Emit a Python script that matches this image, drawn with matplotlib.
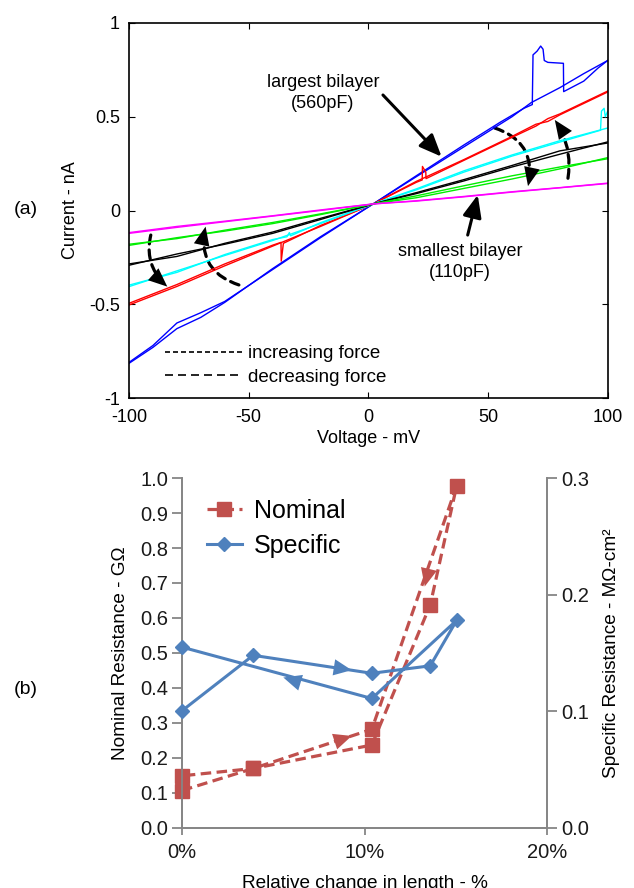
import numpy as np
import matplotlib
matplotlib.use("Agg")
import matplotlib.pyplot as plt
from matplotlib.lines import Line2D
from matplotlib.patches import FancyArrowPatch

plt.rcParams['font.family'] = ['Liberation Sans', 'DejaVu Sans']

# ---- (a) current-voltage traces, two sweeps per bilayer ----
v_grid = [-100, -80, -60, -40, -20, 2, 20, 40, 60, 80, 100]

magenta_a = [-0.122, -0.090, -0.060, -0.030, 0.000, 0.035, 0.052, 0.075, 0.100, 0.122, 0.146]
magenta_b = [-0.118, -0.085, -0.057, -0.028, 0.003, 0.035, 0.050, 0.073, 0.098, 0.121, 0.144]
green_a = [-0.186, -0.145, -0.110, -0.070, -0.022, 0.035, 0.068, 0.118, 0.168, 0.222, 0.282]
green_b = [-0.180, -0.150, -0.105, -0.064, -0.018, 0.035, 0.078, 0.132, 0.185, 0.232, 0.276]
black_a = [-0.292, -0.232, -0.180, -0.122, -0.048, 0.035, 0.090, 0.158, 0.232, 0.300, 0.366]
black_b = [-0.285, -0.245, -0.175, -0.115, -0.042, 0.035, 0.095, 0.165, 0.240, 0.318, 0.360]

cyan_a_v = [-100, -80, -60, -40, -20, 2, 20, 40, 60, 80, 97, 97.4, 98.5, 99, 100]
cyan_a_i = [-0.406, -0.322, -0.240, -0.160, -0.070, 0.035, 0.110, 0.205, 0.290, 0.365,
            0.428, 0.530, 0.545, 0.500, 0.530]
cyan_b_v = [-100, -80, -60, -40, -34, -33, -32.5, -20, 2, 20, 40, 60, 80, 100]
cyan_b_i = [-0.398, -0.330, -0.235, -0.155, -0.140, -0.118, -0.135, -0.065, 0.035, 0.115,
            0.212, 0.296, 0.372, 0.440]

red_a_v = [-100, -80, -60, -40, -20, 2, 20, 22.5, 22.6, 24, 24.1, 40, 60, 70, 75, 80, 100]
red_a_i = [-0.504, -0.405, -0.295, -0.190, -0.085, 0.035, 0.150, 0.163, 0.235, 0.205, 0.170,
           0.268, 0.390, 0.450, 0.490, 0.515, 0.637]
red_b_v = [-100, -80, -60, -40, -36.5, -36.4, -35.5, -20, 2, 20, 40, 60, 70, 75, 80, 100]
red_b_i = [-0.495, -0.395, -0.285, -0.185, -0.170, -0.270, -0.175, -0.080, 0.035, 0.155,
           0.272, 0.395, 0.460, 0.475, 0.510, 0.632]

blue_a_v = [-100, -90, -80, -70, -60, -40, -20, 2, 20, 40, 60, 68, 80, 90, 100]
blue_a_i = [-0.815, -0.730, -0.630, -0.570, -0.490, -0.310, -0.140, 0.035, 0.180, 0.340,
            0.500, 0.575, 0.655, 0.730, 0.800]
blue_b_v = [-100, -90, -80, -70, -60, -40, -20, 2, 20, 40, 55, 65, 68.5, 68.8, 70.5, 72, 73,
            73.5, 75, 81.5, 81.6, 90, 96, 100]
blue_b_i = [-0.810, -0.720, -0.600, -0.545, -0.485, -0.315, -0.145, 0.035, 0.185, 0.350,
            0.470, 0.545, 0.565, 0.830, 0.850, 0.877, 0.860, 0.800, 0.790, 0.785, 0.634,
            0.690, 0.760, 0.800]

# ---- (b) resistance vs. relative length change ----
nominal_x = [0, 3.9, 10.4, 15.05, 13.6, 10.4, 3.9, 0]
nominal_y = [0.107, 0.170, 0.282, 0.978, 0.637, 0.237, 0.170, 0.149]
specific_x = [0, 3.9, 10.4, 13.6, 15.05, 10.4, 0]
specific_y = [0.1005, 0.148, 0.1326, 0.139, 0.178, 0.111, 0.155]

RED = '#c0504d'
BLUE = '#4f81bd'
GREY = '#868686'
FS = 13


def dashed_arc_arrow(ax, start, end, rad):
    # dashed arc (no head) + solid head aligned with the arc tangent at the end
    ax.add_patch(FancyArrowPatch(start, end, connectionstyle=f'arc3,rad={rad}',
                                 arrowstyle='-', lw=2.3, color='k',
                                 linestyle=(0, (2.8, 1.9)), shrinkA=0, shrinkB=9))
    T = ax.transData
    p0, p1 = T.transform(start), T.transform(end)
    d = p1 - p0
    c = (p0 + p1) / 2 + rad * np.array([d[1], -d[0]])
    t = (p1 - c) / np.linalg.norm(p1 - c)
    tail = T.inverted().transform(p1 - 4 * t)
    ax.annotate('', xy=end, xytext=tail,
                arrowprops=dict(arrowstyle='-|>,head_length=0.9,head_width=0.38',
                                mutation_scale=15, color='k', lw=0,
                                shrinkA=0, shrinkB=0))


fig = plt.figure(figsize=(6.34, 8.88), dpi=100)

# ================= (a) =================
ax = fig.add_axes([0.2035, 0.5518, 0.755, 0.4223])
traces = [
    (blue_a_v, blue_a_i, '#0000ff'), (blue_b_v, blue_b_i, '#0000ff'),
    (red_a_v, red_a_i, '#ff0000'), (red_b_v, red_b_i, '#ff0000'),
    (cyan_a_v, cyan_a_i, '#00ffff'), (cyan_b_v, cyan_b_i, '#00ffff'),
    (v_grid, black_a, 'black'), (v_grid, black_b, 'black'),
    (v_grid, green_a, '#00ee00'), (v_grid, green_b, '#00ee00'),
    (v_grid, magenta_a, '#ff00ff'), (v_grid, magenta_b, '#ff00ff'),
]
for vv, ii, c in traces:
    ax.plot(vv, ii, color=c, lw=1.0)

ax.set_xlim(-100, 100)
ax.set_ylim(-1, 1)
ax.set_xticks([-100, -50, 0, 50, 100])
ax.set_yticks([-1, -0.5, 0, 0.5, 1])
ax.set_yticklabels(['-1', '-0.5', '0', '0.5', '1'])
ax.set_xticklabels(['-100', '-50', '0', '50', '100'])
ax.tick_params(direction='in', top=True, right=True, length=4, labelsize=FS)
ax.tick_params(axis='x', pad=8)
ax.tick_params(axis='y', pad=6.5)
for s in ax.spines.values():
    s.set_linewidth(1.2)
ax.set_xlabel('Voltage - mV', fontsize=FS, labelpad=3)
ax.set_ylabel('Current - nA', fontsize=FS, labelpad=7)

# bilayer labels with solid arrows
ax.text(-19, 0.627, 'largest bilayer\n(560pF)', ha='center', va='center',
        fontsize=FS, linespacing=1.25)
ax.annotate('', xy=(30.6, 0.287), xytext=(6.1, 0.616),
            arrowprops=dict(arrowstyle='-|>,head_length=0.9,head_width=0.38',
                            color='k', lw=2.2, mutation_scale=15, shrinkA=0, shrinkB=0))
ax.text(38.2, -0.275, 'smallest bilayer\n(110pF)', ha='center', va='center',
        fontsize=FS, linespacing=1.25)
ax.annotate('', xy=(45.7, 0.083), xytext=(41.5, -0.131),
            arrowprops=dict(arrowstyle='-|>,head_length=0.9,head_width=0.38',
                            color='k', lw=2.2, mutation_scale=15, shrinkA=0, shrinkB=0))

# dashed curved arrows showing force direction
dashed_arc_arrow(ax, (52.8, 0.44), (66.7, 0.13), -0.45)
dashed_arc_arrow(ax, (83.4, 0.172), (77.9, 0.483), 0.2)
dashed_arc_arrow(ax, (-54.1, -0.397), (-68.0, -0.086), -0.45)
dashed_arc_arrow(ax, (-90.9, -0.131), (-84.0, -0.406), 0.3)

ax.legend(handles=[Line2D([], [], color='k', lw=1.2, linestyle=(0, (3, 1.8))),
                   Line2D([], [], color='k', lw=1.2, linestyle=(0, (4.8, 3)))],
          labels=['increasing force', 'decreasing force'],
          loc='lower left', bbox_to_anchor=(0.05, 0.0), frameon=False,
          fontsize=FS + 0.5, handlelength=4.1, handletextpad=0.3, labelspacing=0.35,
          borderaxespad=0.25)

fig.text(0.04, 1 - 210 / 888, '(a)', fontsize=14, ha='center', va='center')

# ================= (b) =================
bx = fig.add_axes([0.2871, 0.0676, 0.5757, 0.3941])
bx2 = bx.twinx()

bx.plot(nominal_x, nominal_y, color=RED, lw=2.3, linestyle=(0, (3.3, 1.7)),
        marker='s', ms=10, label='Nominal', clip_on=False, zorder=4)
bx2.plot(specific_x, specific_y, color=BLUE, lw=2.2, marker='D', ms=7.5, label='Specific',
         clip_on=False, zorder=4)

arrow_style = '-|>,head_length=1.0,head_width=0.45'
for tip, tail, c, axx in [((9.3, 0.263), (8.4, 0.2475), RED, bx),
                          ((13.3, 0.69), (13.55, 0.745), RED, bx),
                          ((9.3, 0.1353), (8.4, 0.1375), BLUE, bx2),
                          ((5.55, 0.129), (6.5, 0.1245), BLUE, bx2)]:
    axx.annotate('', xy=tip, xytext=tail,
                 arrowprops=dict(arrowstyle=arrow_style, color=c, lw=0,
                                 mutation_scale=13, shrinkA=0, shrinkB=0))

bx.set_xlim(0, 20)
bx.set_ylim(0, 1.0)
bx2.set_ylim(0, 0.3)
bx.set_xticks([0, 10, 20])
bx.set_xticklabels(['0%', '10%', '20%'])
bx.set_yticks([i / 10 for i in range(11)])
bx.set_yticklabels([f'{i / 10:.1f}' for i in range(11)])
bx2.set_yticks([0, 0.1, 0.2, 0.3])
bx2.set_yticklabels(['0.0', '0.1', '0.2', '0.3'])

for a in (bx, bx2):
    a.spines['top'].set_visible(False)
    for s in a.spines.values():
        s.set_color(GREY)
        s.set_linewidth(1.3)
    a.tick_params(colors=GREY, labelcolor='#1a1a1a', labelsize=14.5, width=1.3)
bx.tick_params(axis='y', length=7, pad=3)
bx.tick_params(axis='x', length=5, pad=6)
bx2.tick_params(axis='y', length=7, pad=3)

bx.set_ylabel('Nominal Resistance - GΩ', fontsize=13.7, labelpad=8)
bx2.set_ylabel('Specific Resistance - MΩ-cm²', fontsize=13.7, labelpad=10, rotation=90)
bx.set_xlabel('Relative change in length - %', fontsize=13.7, labelpad=9)

h1, l1 = bx.get_legend_handles_labels()
h2, l2 = bx2.get_legend_handles_labels()
bx.legend(h1 + h2, l1 + l2, loc='upper left', bbox_to_anchor=(0.04, 0.97), frameon=False,
          fontsize=18, handlelength=1.4, handletextpad=0.5, labelspacing=0.45,
          borderaxespad=0)

fig.text(0.04, 1 - 690 / 888, '(b)', fontsize=14, ha='center', va='center')

fig.savefig('out.png', dpi=100)
